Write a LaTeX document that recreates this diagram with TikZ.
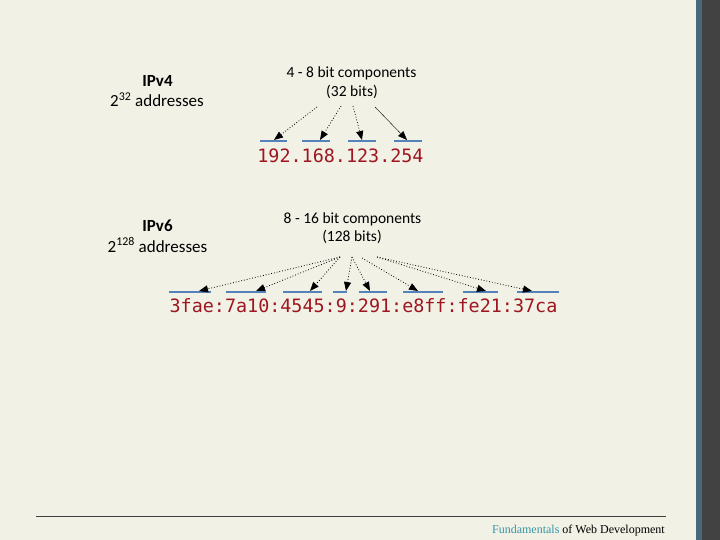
\documentclass[tikz,border=0pt]{standalone}
\usepackage{fontspec}
\setmainfont{Carlito}
\newfontfamily\codefont{DejaVu Sans Mono}
\newfontfamily\footfont{Liberation Serif}
\usetikzlibrary{arrows.meta}
\definecolor{slidebg}{RGB}{242,241,230}
\definecolor{barblue}{RGB}{74,104,124}
\definecolor{bargray}{RGB}{66,66,66}
\definecolor{segblue}{RGB}{84,130,186}
\definecolor{addrred}{RGB}{160,22,32}
\definecolor{footteal}{RGB}{52,150,168}
\tikzset{
	seg/.style={segblue,line width=2pt},
	ptr/.style={dotted,line width=0.8pt,-{Triangle[length=9pt,width=7pt]}},
	ptrsolid/.style={line width=0.4pt,-{Triangle[length=9pt,width=7pt]}},
	addr/.style={addrred,anchor=base,inner sep=0pt,font=\codefont\fontsize{18.4}{20}\selectfont},
	txt/.style={anchor=base,inner sep=0pt,font=\fontsize{15.5}{18}\selectfont},
	big/.style={anchor=base,inner sep=0pt,font=\fontsize{17}{20}\selectfont},
}
\begin{document}
\begin{tikzpicture}[x=1pt,y=-1pt]
				\fill[slidebg] (0,0) rectangle (720,540);
				\fill[barblue] (696,0) rectangle (702,540);
				\fill[bargray] (702,0) rectangle (720,540);
				\useasboundingbox (0,0) rectangle (720,540);
				\draw (157.5,87) node[big,font=\bfseries\fontsize{17}{20}\selectfont] (ipfour) {IPv4};
				\draw (157,107) node[big] (ipfourcount) {2\textsuperscript{32} addresses};
				\draw (351.5,78) node[txt] (compsfour) {4 - 8 bit components};
				\draw (352,97) node[txt] (bitsfour) {(32 bits)};
				\draw (340.5,163) node[addr] (addrfour) {192.168.123.254};
				\draw[seg] (260,141) -- (287,141);
				\draw[seg] (302,141) -- (330,141);
				\draw[seg] (348,141) -- (376,141);
				\draw[seg] (394,141) -- (422,141);
				\coordinate (fa) at (317,107);
				\coordinate (fb) at (341,106);
				\coordinate (fc) at (353,106);
				\coordinate (fd) at (375,107);
				\coordinate (ta) at (274,140);
				\coordinate (tb) at (320,140);
				\coordinate (tc) at (362,140);
				\coordinate (td) at (407,140);
				\draw[ptr] (fa) -- (ta);
				\draw[ptr] (fb) -- (tb);
				\draw[ptr] (fc) -- (tc);
				\draw[ptrsolid] (fd) -- (td);
				\draw (157.5,232) node[big,font=\bfseries\fontsize{17}{20}\selectfont] (ipsix) {IPv6};
				\draw (157.5,252) node[big] (ipsixcount) {2\textsuperscript{128} addresses};
				\draw (352.5,223) node[txt] (compssix) {8 - 16 bit components};
				\draw (352,241) node[txt] (bitssix) {(128 bits)};
				\draw (363.5,312) node[addr] (addrsix) {3fae:7a10:4545:9:291:e8ff:fe21:37ca};
				\draw[seg] (169,292) -- (211,292);
				\draw[seg] (226,292) -- (266,292);
				\draw[seg] (283,292) -- (322,292);
				\draw[seg] (333,292) -- (347,292);
				\draw[seg] (359,292) -- (387,292);
				\draw[seg] (403,292) -- (443,292);
				\draw[seg] (463,292) -- (498,292);
				\draw[seg] (517,292) -- (559,292);
				\coordinate (sl) at (340,257);
				\coordinate (sm) at (352,257);
				\coordinate (sn) at (362,258);
				\coordinate (sr) at (377,257);
				\coordinate (ua) at (199,291);
				\coordinate (ub) at (256,291);
				\coordinate (uc) at (310,291);
				\coordinate (ud) at (346,291);
				\coordinate (ue) at (370,291);
				\coordinate (uf) at (418,291);
				\coordinate (ug) at (486,291);
				\coordinate (uh) at (532,291);
				\draw[ptr] (sl) -- (ua);
				\draw[ptr] (sl) -- (ub);
				\draw[ptr] (sl) -- (uc);
				\draw[ptr] (sm) -- (ud);
				\draw[ptr] (sm) -- (ue);
				\draw[ptr] (sn) -- (uf);
				\draw[ptr] (sr) -- (ug);
				\draw[ptr] (sr) -- (uh);
				\draw[line width=0.9pt,black!75] (36,516) -- (666,516);
				\draw (665,533) node[anchor=base east,inner sep=0pt,font=\footfont\fontsize{12}{14}\selectfont] (foot) {\textcolor{footteal}{Fundamentals} of Web Development};
			\end{tikzpicture}
\end{document}
